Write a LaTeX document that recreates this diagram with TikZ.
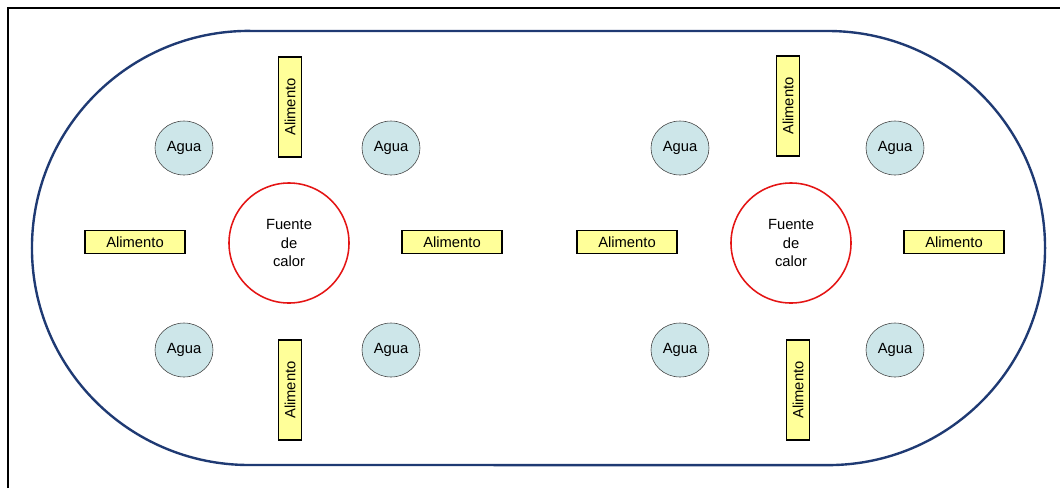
\documentclass[tikz,border=0pt]{standalone}
\usepackage{fontspec}
\setmainfont{Liberation Sans}
\definecolor{PistaNavy}{RGB}{31,58,115}
\definecolor{AlimAmarillo}{RGB}{255,255,153}
\definecolor{AguaAzul}{RGB}{205,230,233}
\definecolor{CalorRojo}{RGB}{228,20,20}
\usetikzlibrary{shapes.geometric, positioning}

\begin{document}
\begin{tikzpicture}[x=0.025cm, y=-0.025cm, font=\fontsize{10.5}{13}\selectfont,
	agua/.style={ellipse, draw=black!75, thin, fill=AguaAzul, inner sep=0pt,
		minimum width=1.45cm, minimum height=1.35cm},
	alim/.style={rectangle, draw=black, line width=0.8pt, fill=AlimAmarillo,
		inner sep=0pt, minimum width=2.5cm, minimum height=0.58cm},
	alimv/.style={alim, rotate=90},
	fuente/.style={circle, draw=CalorRojo, line width=1.1pt, fill=white,
		minimum size=3cm, align=center, inner sep=0pt}]
	\useasboundingbox (0,0) rectangle (1060,488);
	% marco
	\draw[line width=1pt] (8,488) -- (8,8) -- (1060,8);
	% pista
	\draw[PistaNavy, line width=1.7pt] (249,31) -- (828,31)
		arc[start angle=90, end angle=-90, radius=5.425cm] -- (249,465)
		arc[start angle=270, end angle=90, radius=5.425cm] -- cycle;
	% grupo izquierdo
	\begin{scope}
		\node[fuente] (fL) at (289,243) {Fuente\\de\\calor};
		\foreach \n/\x/\y in {1/184/148, 2/391/148, 3/184/350, 4/391/350}
			{\node[agua] (aL\n) at (\x,\y) {Agua};}
		\node[alim] (hL1) at (135,242) {Alimento};
		\node[alim] (hL2) at (452,242) {Alimento};
		\node[alimv] (vL1) at (290,107) {Alimento};
		\node[alimv] (vL2) at (290,390) {Alimento};
	\end{scope}
	% grupo derecho
	\begin{scope}
		\node[fuente] (fR) at (791,243) {Fuente\\de\\calor};
		\foreach \n/\x/\y in {1/680/148, 2/895/148, 3/680/350, 4/895/350}
			{\node[agua] (aR\n) at (\x,\y) {Agua};}
		\node[alim] (hR1) at (627,242) {Alimento};
		\node[alim] (hR2) at (954,242) {Alimento};
		\node[alimv] (vR1) at (788,106) {Alimento};
		\node[alimv] (vR2) at (798,390) {Alimento};
	\end{scope}
\end{tikzpicture}
\end{document}
